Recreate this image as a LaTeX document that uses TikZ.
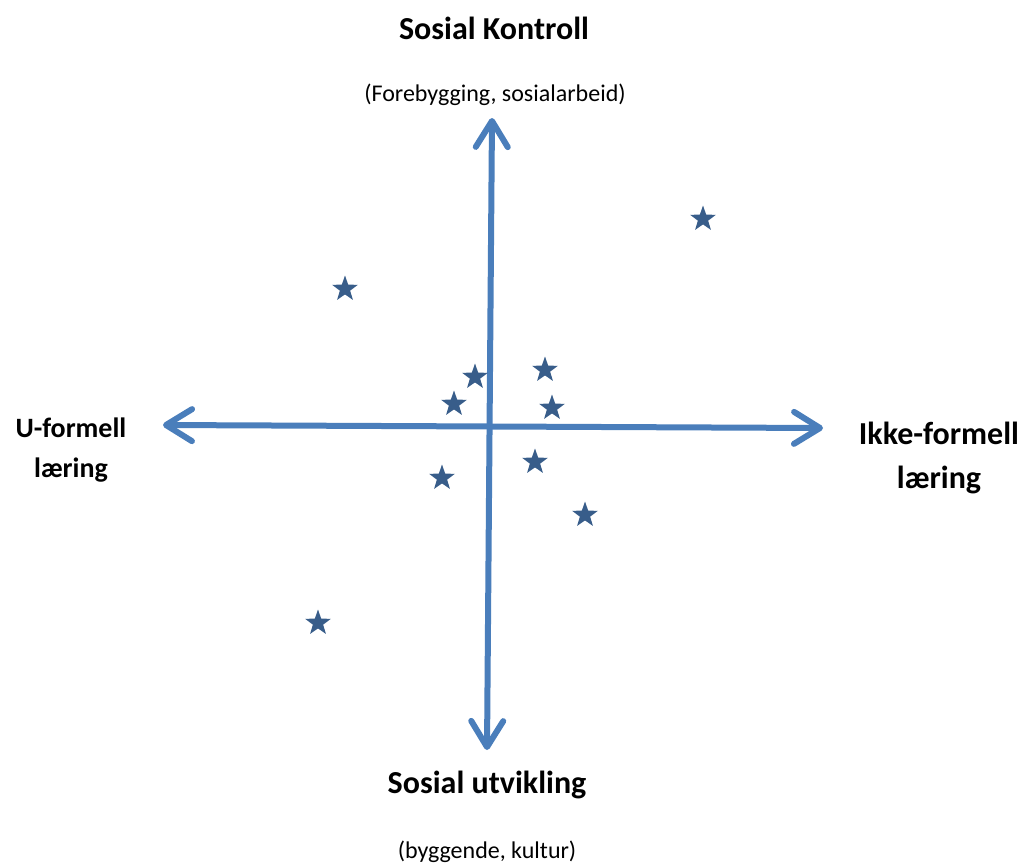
\documentclass[tikz,border=0pt]{standalone}
\usepackage{fontspec}
\setmainfont{Carlito}
\usetikzlibrary{arrows.meta,shapes.geometric}
\definecolor{axisblue}{HTML}{4A7EBB}
\definecolor{starblue}{HTML}{385D8A}
\tikzset{
  axis/.style={draw=axisblue, line width=6pt,
    {Straight Barb[length=26pt,width=32pt,round]}-{Straight Barb[length=26pt,width=32pt,round]}},
  mark star/.style={star, star points=5, star point ratio=2.5, fill=starblue, draw=none,
    minimum size=27pt, inner sep=0pt},
  title/.style={font=\bfseries\fontsize{32}{36}\selectfont, inner sep=0pt},
  sub/.style={font=\fontsize{24}{28}\selectfont, inner sep=0pt},
  lside/.style={font=\bfseries\fontsize{28}{40}\selectfont, align=center, inner sep=0pt},
  rside/.style={font=\bfseries\fontsize{32}{44}\selectfont, align=center, inner sep=0pt}
}
\begin{document}
\begin{tikzpicture}[x=1pt,y=-1pt]
\useasboundingbox (0,0) rectangle (1025,865);
\coordinate (vt) at (492,118);
\coordinate (vb) at (487,750);
\coordinate (hl) at (163,425);
\coordinate (hr) at (823,428);
\draw[axis] (vb) -- (vt);
\draw[axis] (hl) -- (hr);
\node[title] (top) at (494,28) {Sosial Kontroll};
\node[sub] (topsub) at (495,95) {(Forebygging, sosialarbeid)};
\node[title] (bot) at (487,785) {Sosial utvikling};
\node[sub] (botsub) at (487,852) {(byggende, kultur)};
\node[lside] (left) at (71,450) {U-formell\\læring};
\node[rside] (right) at (939,458) {Ikke-formell\\læring};
\node[mark star] (s1) at (703,219) {};
\node[mark star] (s2) at (345,289) {};
\node[mark star] (s3) at (475,377) {};
\node[mark star] (s4) at (545,370) {};
\node[mark star] (s5) at (454,404) {};
\node[mark star] (s6) at (552,408) {};
\node[mark star] (s7) at (442,478) {};
\node[mark star] (s8) at (535,462) {};
\node[mark star] (s9) at (585,515) {};
\node[mark star] (s10) at (318,623) {};
\end{tikzpicture}
\end{document}
